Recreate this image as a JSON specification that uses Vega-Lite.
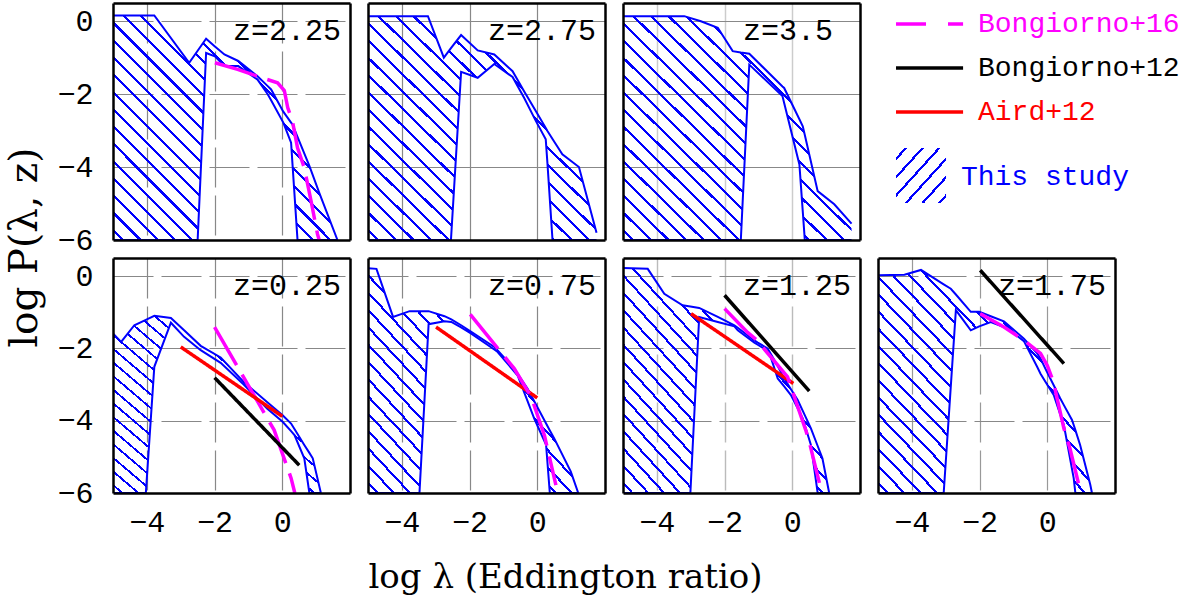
{
"$schema":"https://vega.github.io/schema/vega-lite/v6.json",
"background":"white",
"padding":{"left":4,"top":2,"right":5,"bottom":5},
"config":{
 "view":{"stroke":null},
 "axis":{"labelFont":"Liberation Mono","labelFontSize":30,"labelColor":"#000000","titleFont":"DejaVu Serif","titleFontWeight":"normal","titleColor":"#000000"},
 "area":{"fill":{"gradient":"linear","x1":0,"y1":1,"x2":1,"y2":0,"stops":[
{"offset":0,"color":"rgba(0,0,255,0)"},
{"offset":0.0192,"color":"rgba(0,0,255,0)"},{"offset":0.0192,"color":"#0000ff"},{"offset":0.0262,"color":"#0000ff"},{"offset":0.0262,"color":"rgba(0,0,255,0)"},
{"offset":0.0577,"color":"rgba(0,0,255,0)"},{"offset":0.0577,"color":"#0000ff"},{"offset":0.0647,"color":"#0000ff"},{"offset":0.0647,"color":"rgba(0,0,255,0)"},
{"offset":0.0962,"color":"rgba(0,0,255,0)"},{"offset":0.0962,"color":"#0000ff"},{"offset":0.1032,"color":"#0000ff"},{"offset":0.1032,"color":"rgba(0,0,255,0)"},
{"offset":0.1346,"color":"rgba(0,0,255,0)"},{"offset":0.1346,"color":"#0000ff"},{"offset":0.1416,"color":"#0000ff"},{"offset":0.1416,"color":"rgba(0,0,255,0)"},
{"offset":0.1731,"color":"rgba(0,0,255,0)"},{"offset":0.1731,"color":"#0000ff"},{"offset":0.1801,"color":"#0000ff"},{"offset":0.1801,"color":"rgba(0,0,255,0)"},
{"offset":0.2115,"color":"rgba(0,0,255,0)"},{"offset":0.2115,"color":"#0000ff"},{"offset":0.2185,"color":"#0000ff"},{"offset":0.2185,"color":"rgba(0,0,255,0)"},
{"offset":0.25,"color":"rgba(0,0,255,0)"},{"offset":0.25,"color":"#0000ff"},{"offset":0.257,"color":"#0000ff"},{"offset":0.257,"color":"rgba(0,0,255,0)"},
{"offset":0.2885,"color":"rgba(0,0,255,0)"},{"offset":0.2885,"color":"#0000ff"},{"offset":0.2955,"color":"#0000ff"},{"offset":0.2955,"color":"rgba(0,0,255,0)"},
{"offset":0.3269,"color":"rgba(0,0,255,0)"},{"offset":0.3269,"color":"#0000ff"},{"offset":0.3339,"color":"#0000ff"},{"offset":0.3339,"color":"rgba(0,0,255,0)"},
{"offset":0.3654,"color":"rgba(0,0,255,0)"},{"offset":0.3654,"color":"#0000ff"},{"offset":0.3724,"color":"#0000ff"},{"offset":0.3724,"color":"rgba(0,0,255,0)"},
{"offset":0.4038,"color":"rgba(0,0,255,0)"},{"offset":0.4038,"color":"#0000ff"},{"offset":0.4108,"color":"#0000ff"},{"offset":0.4108,"color":"rgba(0,0,255,0)"},
{"offset":0.4423,"color":"rgba(0,0,255,0)"},{"offset":0.4423,"color":"#0000ff"},{"offset":0.4493,"color":"#0000ff"},{"offset":0.4493,"color":"rgba(0,0,255,0)"},
{"offset":0.4808,"color":"rgba(0,0,255,0)"},{"offset":0.4808,"color":"#0000ff"},{"offset":0.4878,"color":"#0000ff"},{"offset":0.4878,"color":"rgba(0,0,255,0)"},
{"offset":0.5192,"color":"rgba(0,0,255,0)"},{"offset":0.5192,"color":"#0000ff"},{"offset":0.5262,"color":"#0000ff"},{"offset":0.5262,"color":"rgba(0,0,255,0)"},
{"offset":0.5577,"color":"rgba(0,0,255,0)"},{"offset":0.5577,"color":"#0000ff"},{"offset":0.5647,"color":"#0000ff"},{"offset":0.5647,"color":"rgba(0,0,255,0)"},
{"offset":0.5962,"color":"rgba(0,0,255,0)"},{"offset":0.5962,"color":"#0000ff"},{"offset":0.6032,"color":"#0000ff"},{"offset":0.6032,"color":"rgba(0,0,255,0)"},
{"offset":0.6346,"color":"rgba(0,0,255,0)"},{"offset":0.6346,"color":"#0000ff"},{"offset":0.6416,"color":"#0000ff"},{"offset":0.6416,"color":"rgba(0,0,255,0)"},
{"offset":0.6731,"color":"rgba(0,0,255,0)"},{"offset":0.6731,"color":"#0000ff"},{"offset":0.6801,"color":"#0000ff"},{"offset":0.6801,"color":"rgba(0,0,255,0)"},
{"offset":0.7115,"color":"rgba(0,0,255,0)"},{"offset":0.7115,"color":"#0000ff"},{"offset":0.7185,"color":"#0000ff"},{"offset":0.7185,"color":"rgba(0,0,255,0)"},
{"offset":0.75,"color":"rgba(0,0,255,0)"},{"offset":0.75,"color":"#0000ff"},{"offset":0.757,"color":"#0000ff"},{"offset":0.757,"color":"rgba(0,0,255,0)"},
{"offset":0.7885,"color":"rgba(0,0,255,0)"},{"offset":0.7885,"color":"#0000ff"},{"offset":0.7955,"color":"#0000ff"},{"offset":0.7955,"color":"rgba(0,0,255,0)"},
{"offset":0.8269,"color":"rgba(0,0,255,0)"},{"offset":0.8269,"color":"#0000ff"},{"offset":0.8339,"color":"#0000ff"},{"offset":0.8339,"color":"rgba(0,0,255,0)"},
{"offset":0.8654,"color":"rgba(0,0,255,0)"},{"offset":0.8654,"color":"#0000ff"},{"offset":0.8724,"color":"#0000ff"},{"offset":0.8724,"color":"rgba(0,0,255,0)"},
{"offset":0.9038,"color":"rgba(0,0,255,0)"},{"offset":0.9038,"color":"#0000ff"},{"offset":0.9108,"color":"#0000ff"},{"offset":0.9108,"color":"rgba(0,0,255,0)"},
{"offset":0.9423,"color":"rgba(0,0,255,0)"},{"offset":0.9423,"color":"#0000ff"},{"offset":0.9493,"color":"#0000ff"},{"offset":0.9493,"color":"rgba(0,0,255,0)"},
{"offset":0.9808,"color":"rgba(0,0,255,0)"},{"offset":0.9808,"color":"#0000ff"},{"offset":0.9878,"color":"#0000ff"},{"offset":0.9878,"color":"rgba(0,0,255,0)"},
{"offset":1,"color":"rgba(0,0,255,0)"}]}}
},
"datasets":{
 "band":[
  {"z":"2.25","x":-5,"hi":0.16,"lo":-6},{"z":"2.25","x":-3.78,"hi":0.16,"lo":-6},{"z":"2.25","x":-2.75,"hi":-1.14,"lo":-6},{"z":"2.25","x":-2.5,"hi":-0.81,"lo":-6},{"z":"2.25","x":-2.25,"hi":-0.48,"lo":-0.87},{"z":"2.25","x":-1.99,"hi":-0.69,"lo":-0.96},{"z":"2.25","x":-1.71,"hi":-0.91,"lo":-1.23},{"z":"2.25","x":-1.3,"hi":-1.09,"lo":-1.23},{"z":"2.25","x":-0.73,"hi":-1.51,"lo":-1.6},{"z":"2.25","x":-0.43,"hi":-1.78,"lo":-2.0},{"z":"2.25","x":-0.33,"hi":-1.87,"lo":-2.17},{"z":"2.25","x":0.03,"hi":-2.48,"lo":-2.78},{"z":"2.25","x":0.26,"hi":-2.78,"lo":-3.33},{"z":"2.25","x":0.3,"hi":-2.83,"lo":-3.9},{"z":"2.25","x":0.45,"hi":-3.17,"lo":-6},{"z":"2.25","x":0.8,"hi":-3.97,"lo":-6},{"z":"2.25","x":1.09,"hi":-4.7,"lo":-6},{"z":"2.25","x":1.63,"hi":-6,"lo":-6},
  {"z":"2.75","x":-5,"hi":0.14,"lo":-6},{"z":"2.75","x":-3.23,"hi":0.14,"lo":-6},{"z":"2.75","x":-2.76,"hi":-1.0,"lo":-6},{"z":"2.75","x":-2.55,"hi":-0.74,"lo":-6},{"z":"2.75","x":-2.25,"hi":-0.38,"lo":-1.39},{"z":"2.75","x":-1.76,"hi":-0.8,"lo":-1.55},{"z":"2.75","x":-1.27,"hi":-0.91,"lo":-1.17},{"z":"2.75","x":-0.73,"hi":-1.37,"lo":-1.53},{"z":"2.75","x":-0.39,"hi":-1.92,"lo":-2.1},{"z":"2.75","x":-0.04,"hi":-2.47,"lo":-2.74},{"z":"2.75","x":0.25,"hi":-2.93,"lo":-3.24},{"z":"2.75","x":0.3,"hi":-3.01,"lo":-3.9},{"z":"2.75","x":0.45,"hi":-3.23,"lo":-6},{"z":"2.75","x":0.74,"hi":-3.65,"lo":-6},{"z":"2.75","x":1.23,"hi":-4.0,"lo":-6},{"z":"2.75","x":1.75,"hi":-5.8,"lo":-6},
  {"z":"3.5","x":-5,"hi":0.14,"lo":-6},{"z":"3.5","x":-3.19,"hi":0.14,"lo":-6},{"z":"3.5","x":-2.7,"hi":0.0,"lo":-6},{"z":"3.5","x":-2.2,"hi":-0.18,"lo":-6},{"z":"3.5","x":-1.76,"hi":-0.82,"lo":-6},{"z":"3.5","x":-1.52,"hi":-0.86,"lo":-6},{"z":"3.5","x":-1.27,"hi":-0.89,"lo":-1.19},{"z":"3.5","x":-0.29,"hi":-1.79,"lo":-2.05},{"z":"3.5","x":-0.24,"hi":-1.83,"lo":-2.24},{"z":"3.5","x":0.21,"hi":-2.69,"lo":-3.93},{"z":"3.5","x":0.31,"hi":-2.88,"lo":-5.22},{"z":"3.5","x":0.37,"hi":-3.12,"lo":-6},{"z":"3.5","x":0.75,"hi":-4.66,"lo":-6},{"z":"3.5","x":1.24,"hi":-5.02,"lo":-6},{"z":"3.5","x":1.75,"hi":-5.55,"lo":-6},
  {"z":"0.25","x":-5,"hi":-1.59,"lo":-6},{"z":"0.25","x":-4.76,"hi":-1.82,"lo":-6},{"z":"0.25","x":-4.37,"hi":-1.36,"lo":-6},{"z":"0.25","x":-4.03,"hi":-1.21,"lo":-6},{"z":"0.25","x":-3.78,"hi":-1.1,"lo":-2.51},{"z":"0.25","x":-3.29,"hi":-1.16,"lo":-1.29},{"z":"0.25","x":-2.9,"hi":-1.5,"lo":-1.68},{"z":"0.25","x":-2.41,"hi":-1.93,"lo":-2.05},{"z":"0.25","x":-1.82,"hi":-2.25,"lo":-2.4},{"z":"0.25","x":-1.14,"hi":-2.93,"lo":-3.0},{"z":"0.25","x":-0.45,"hi":-3.48,"lo":-3.66},{"z":"0.25","x":0.01,"hi":-3.85,"lo":-4.03},{"z":"0.25","x":0.26,"hi":-4.08,"lo":-4.29},{"z":"0.25","x":0.36,"hi":-4.23,"lo":-4.4},{"z":"0.25","x":0.65,"hi":-4.67,"lo":-5.04},{"z":"0.25","x":0.8,"hi":-4.89,"lo":-6},{"z":"0.25","x":0.9,"hi":-5.04,"lo":-6},{"z":"0.25","x":1.14,"hi":-6,"lo":-6},
  {"z":"0.75","x":-5,"hi":0.22,"lo":-6},{"z":"0.75","x":-4.75,"hi":0.2,"lo":-6},{"z":"0.75","x":-4.26,"hi":-1.13,"lo":-6},{"z":"0.75","x":-3.77,"hi":-0.97,"lo":-6},{"z":"0.75","x":-3.48,"hi":-0.97,"lo":-6},{"z":"0.75","x":-3.21,"hi":-0.97,"lo":-1.33},{"z":"0.75","x":-2.74,"hi":-1.11,"lo":-1.25},{"z":"0.75","x":-2.54,"hi":-1.2,"lo":-1.27},{"z":"0.75","x":-2.25,"hi":-1.36,"lo":-1.42},{"z":"0.75","x":-1.95,"hi":-1.54,"lo":-1.59},{"z":"0.75","x":-1.27,"hi":-1.96,"lo":-2.03},{"z":"0.75","x":-1.17,"hi":-2.06,"lo":-2.1},{"z":"0.75","x":-0.68,"hi":-2.56,"lo":-2.64},{"z":"0.75","x":-0.58,"hi":-2.7,"lo":-2.75},{"z":"0.75","x":-0.29,"hi":-3.11,"lo":-3.45},{"z":"0.75","x":-0.09,"hi":-3.46,"lo":-3.94},{"z":"0.75","x":0.26,"hi":-4.08,"lo":-4.67},{"z":"0.75","x":0.37,"hi":-4.27,"lo":-6},{"z":"0.75","x":0.5,"hi":-4.49,"lo":-6},{"z":"0.75","x":0.99,"hi":-5.41,"lo":-6},{"z":"0.75","x":1.21,"hi":-6,"lo":-6},
  {"z":"1.25","x":-5,"hi":0.22,"lo":-6},{"z":"1.25","x":-4.27,"hi":0.2,"lo":-6},{"z":"1.25","x":-3.78,"hi":-0.49,"lo":-6},{"z":"1.25","x":-3.24,"hi":-0.81,"lo":-6},{"z":"1.25","x":-3.01,"hi":-0.84,"lo":-6},{"z":"1.25","x":-2.75,"hi":-0.88,"lo":-1.13},{"z":"1.25","x":-2.2,"hi":-1.13,"lo":-1.27},{"z":"1.25","x":-1.71,"hi":-1.36,"lo":-1.39},{"z":"1.25","x":-1.61,"hi":-1.43,"lo":-1.5},{"z":"1.25","x":-1.12,"hi":-1.78,"lo":-1.84},{"z":"1.25","x":-1.02,"hi":-1.84,"lo":-1.9},{"z":"1.25","x":-0.73,"hi":-2.0,"lo":-2.07},{"z":"1.25","x":-0.68,"hi":-2.08,"lo":-2.12},{"z":"1.25","x":-0.43,"hi":-2.49,"lo":-2.83},{"z":"1.25","x":-0.24,"hi":-2.83,"lo":-3.05},{"z":"1.25","x":-0.04,"hi":-3.13,"lo":-3.29},{"z":"1.25","x":0.16,"hi":-3.43,"lo":-3.66},{"z":"1.25","x":0.31,"hi":-3.73,"lo":-3.94},{"z":"1.25","x":0.55,"hi":-4.21,"lo":-4.67},{"z":"1.25","x":0.75,"hi":-4.7,"lo":-6},{"z":"1.25","x":0.89,"hi":-5.04,"lo":-6},{"z":"1.25","x":1.09,"hi":-6,"lo":-6},
  {"z":"1.75","x":-5,"hi":0.02,"lo":-6},{"z":"1.75","x":-4.22,"hi":0.04,"lo":-6},{"z":"1.75","x":-3.73,"hi":0.17,"lo":-6},{"z":"1.75","x":-3.06,"hi":-0.23,"lo":-6},{"z":"1.75","x":-2.85,"hi":-0.35,"lo":-3.05},{"z":"1.75","x":-2.7,"hi":-0.51,"lo":-0.94},{"z":"1.75","x":-2.26,"hi":-0.99,"lo":-1.5},{"z":"1.75","x":-2.01,"hi":-0.99,"lo":-1.39},{"z":"1.75","x":-1.67,"hi":-1.11,"lo":-1.27},{"z":"1.75","x":-1.28,"hi":-1.25,"lo":-1.41},{"z":"1.75","x":-1.18,"hi":-1.33,"lo":-1.45},{"z":"1.75","x":-0.69,"hi":-1.73,"lo":-1.8},{"z":"1.75","x":-0.3,"hi":-2.14,"lo":-2.51},{"z":"1.75","x":-0.2,"hi":-2.28,"lo":-2.7},{"z":"1.75","x":-0.01,"hi":-2.65,"lo":-2.99},{"z":"1.75","x":0.19,"hi":-3.02,"lo":-3.29},{"z":"1.75","x":0.38,"hi":-3.38,"lo":-3.82},{"z":"1.75","x":0.49,"hi":-3.57,"lo":-4.12},{"z":"1.75","x":0.73,"hi":-3.98,"lo":-5.34},{"z":"1.75","x":0.78,"hi":-4.12,"lo":-5.59},{"z":"1.75","x":0.83,"hi":-4.26,"lo":-6},{"z":"1.75","x":0.97,"hi":-4.67,"lo":-6},{"z":"1.75","x":1.27,"hi":-5.77,"lo":-6},{"z":"1.75","x":1.32,"hi":-6,"lo":-6}
 ],
 "models":[
  {"z":"2.25","src":"Bongiorno+16","x":-1.99,"y":-1.14},{"z":"2.25","src":"Bongiorno+16","x":-1.32,"y":-1.32},{"z":"2.25","src":"Bongiorno+16","x":-0.73,"y":-1.51},{"z":"2.25","src":"Bongiorno+16","x":-0.14,"y":-1.69},{"z":"2.25","src":"Bongiorno+16","x":0.06,"y":-1.9},{"z":"2.25","src":"Bongiorno+16","x":0.16,"y":-2.37},{"z":"2.25","src":"Bongiorno+16","x":0.3,"y":-2.74},{"z":"2.25","src":"Bongiorno+16","x":0.45,"y":-3.47},{"z":"2.25","src":"Bongiorno+16","x":0.65,"y":-4.02},{"z":"2.25","src":"Bongiorno+16","x":0.85,"y":-4.93},{"z":"2.25","src":"Bongiorno+16","x":1.04,"y":-5.84},{"z":"2.25","src":"Bongiorno+16","x":1.09,"y":-6.0},
  {"z":"0.25","src":"Bongiorno+16","x":-2.0,"y":-1.41},{"z":"0.25","src":"Bongiorno+16","x":-0.24,"y":-4.26},{"z":"0.25","src":"Bongiorno+16","x":0.26,"y":-5.59},{"z":"0.25","src":"Bongiorno+16","x":0.37,"y":-6.0},
  {"z":"0.25","src":"Bongiorno+12","x":-2.0,"y":-2.81},{"z":"0.25","src":"Bongiorno+12","x":0.5,"y":-5.23},
  {"z":"0.25","src":"Aird+12","x":-3.0,"y":-1.96},{"z":"0.25","src":"Aird+12","x":0.0,"y":-3.88},
  {"z":"0.75","src":"Aird+12","x":-2.99,"y":-1.41},{"z":"0.75","src":"Aird+12","x":0.0,"y":-3.37},
  {"z":"0.75","src":"Bongiorno+16","x":-1.98,"y":-1.06},{"z":"0.75","src":"Bongiorno+16","x":-0.68,"y":-2.56},{"z":"0.75","src":"Bongiorno+16","x":-0.18,"y":-3.34},{"z":"0.75","src":"Bongiorno+16","x":0.21,"y":-4.4},{"z":"0.75","src":"Bongiorno+16","x":0.55,"y":-5.78},
  {"z":"1.25","src":"Bongiorno+12","x":-2.0,"y":-0.53},{"z":"1.25","src":"Bongiorno+12","x":0.5,"y":-3.18},
  {"z":"1.25","src":"Aird+12","x":-2.99,"y":-1.04},{"z":"1.25","src":"Aird+12","x":0.03,"y":-2.97},
  {"z":"1.25","src":"Bongiorno+16","x":-2.0,"y":-0.9},{"z":"1.25","src":"Bongiorno+16","x":-1.32,"y":-1.56},{"z":"1.25","src":"Bongiorno+16","x":-1.07,"y":-1.75},{"z":"1.25","src":"Bongiorno+16","x":-0.14,"y":-2.79},{"z":"1.25","src":"Bongiorno+16","x":0.01,"y":-3.2},{"z":"1.25","src":"Bongiorno+16","x":0.41,"y":-4.3},{"z":"1.25","src":"Bongiorno+16","x":0.5,"y":-4.58},{"z":"1.25","src":"Bongiorno+16","x":0.8,"y":-5.72},
  {"z":"1.75","src":"Bongiorno+12","x":-1.98,"y":0.16},{"z":"1.75","src":"Bongiorno+12","x":0.49,"y":-2.42},
  {"z":"1.75","src":"Bongiorno+16","x":-1.98,"y":-1.04},{"z":"1.75","src":"Bongiorno+16","x":-1.28,"y":-1.41},{"z":"1.75","src":"Bongiorno+16","x":-0.69,"y":-1.78},{"z":"1.75","src":"Bongiorno+16","x":-0.2,"y":-2.14},{"z":"1.75","src":"Bongiorno+16","x":0.0,"y":-2.47},{"z":"1.75","src":"Bongiorno+16","x":0.18,"y":-2.92},{"z":"1.75","src":"Bongiorno+16","x":0.28,"y":-3.34},{"z":"1.75","src":"Bongiorno+16","x":0.49,"y":-4.21},{"z":"1.75","src":"Bongiorno+16","x":0.67,"y":-4.77},{"z":"1.75","src":"Bongiorno+16","x":0.92,"y":-5.73}
 ],
 "labels":[{"z":"2.25","label":"z=2.25"},{"z":"2.75","label":"z=2.75"},{"z":"3.5","label":"z=3.5"},{"z":"0.25","label":"z=0.25"},{"z":"0.75","label":"z=0.75"},{"z":"1.25","label":"z=1.25"},{"z":"1.75","label":"z=1.75"}],
 "legend":[{"src":"Bongiorno+16","order":0},{"src":"Bongiorno+12","order":1},{"src":"Aird+12","order":2},{"src":"This study","order":3}]
},
"columns":4,
"spacing":18,
"bounds":"flush",
"concat":[
 {"width":237,"height":237,
  "layer":[
   {"data":{"name":"band"},"transform":[{"filter":"datum.z == '2.25'"}],"mark":{"type":"area","clip":true},
    "encoding":{"x":{"field":"x","type":"quantitative","scale":{"domain":[-5,2],"nice":false,"zero":false},"axis":{"orient":"bottom","values":[-4,-2,0],"grid":true,"gridColor":"#888888","gridDash":[40,8],"gridWidth":1.2,"domain":false,"ticks":false,"labels":false,"title":null,"zindex":0}},
     "y":{"field":"hi","type":"quantitative","scale":{"domain":[-6,0.5],"nice":false,"zero":false},"axis":{"orient":"left","values":[-4,-2,0],"grid":true,"gridColor":"#888888","gridDash":[40,8],"gridWidth":1.2,"domain":false,"ticks":false,"labels":false,"title":null,"zindex":0}},
     "y2":{"field":"lo"}}},
   {"data":{"name":"band"},"transform":[{"filter":"datum.z == '2.25'"}],"mark":{"type":"line","color":"#0000ff","strokeWidth":2,"clip":true},
    "encoding":{"x":{"field":"x","type":"quantitative","scale":{"domain":[-5,2],"nice":false,"zero":false},"axis":{"orient":"bottom","values":[-4.5,-4,-3.5,-3,-2.5,-2,-1.5,-1,-0.5,0,0.5,1,1.5],"grid":false,"domain":true,"domainColor":"#000000","domainWidth":2.5,"ticks":true,"tickSize":0,"labels":false,"title":null,"zindex":1,"encode":{"ticks":{"update":{"y2":{"signal":"datum.value % 2 == 0 ? -16 : -10"},"stroke":{"signal":"datum.value % 2 == 0 ? '#666666' : '#000000'"},"strokeWidth":{"signal":"datum.value % 2 == 0 ? 3 : 2"}}}}}},
     "y":{"field":"hi","type":"quantitative","scale":{"domain":[-6,0.5],"nice":false,"zero":false},"axis":{"orient":"left","values":[-6,-5.5,-5,-4.5,-4,-3.5,-3,-2.5,-2,-1.5,-1,-0.5,0],"grid":false,"domain":true,"domainColor":"#000000","domainWidth":2.5,"ticks":true,"tickSize":0,"labels":true,"labelExpr":"datum.value % 2 == 0 ? (datum.value == 0 ? '0' : '−' + abs(datum.value)) : ''","labelPadding":20,"labelOverlap":false,"labelFlush":false,"labelBound":false,"title":null,"zindex":1,"encode":{"ticks":{"update":{"x2":{"signal":"datum.value <= -6 ? 0 : (datum.value % 2 == 0 ? 18 : 10)"},"stroke":{"signal":"datum.value % 2 == 0 ? '#666666' : '#000000'"},"strokeWidth":{"signal":"datum.value % 2 == 0 ? 3 : 2"}}}}}}}},
   {"data":{"name":"band"},"transform":[{"filter":"datum.z == '2.25'"}],"mark":{"type":"line","color":"#0000ff","strokeWidth":2,"clip":true},
    "encoding":{"x":{"field":"x","type":"quantitative","scale":{"domain":[-5,2],"nice":false,"zero":false},"axis":{"orient":"top","values":[-4.5,-4,-3.5,-3,-2.5,-2,-1.5,-1,-0.5,0,0.5,1,1.5],"grid":false,"domain":true,"domainColor":"#000000","domainWidth":2.5,"ticks":true,"tickSize":0,"labels":false,"title":null,"zindex":1,"encode":{"ticks":{"update":{"y2":{"signal":"datum.value % 2 == 0 ? 14 : 10"},"stroke":{"signal":"datum.value % 2 == 0 ? '#666666' : '#000000'"},"strokeWidth":{"signal":"datum.value % 2 == 0 ? 3 : 2"}}}}}},
     "y":{"field":"lo","type":"quantitative","scale":{"domain":[-6,0.5],"nice":false,"zero":false},"axis":{"orient":"right","domain":true,"domainColor":"#000000","domainWidth":2.5,"ticks":false,"labels":false,"grid":false,"title":null,"zindex":1}}}},
   {"data":{"name":"models"},"transform":[{"filter":"datum.z == '2.25'"}],"mark":{"type":"line","strokeWidth":3.5,"clip":true},
    "encoding":{"x":{"field":"x","type":"quantitative","scale":{"domain":[-5,2],"nice":false,"zero":false},"axis":null},"y":{"field":"y","type":"quantitative","scale":{"domain":[-6,0.5],"nice":false,"zero":false},"axis":null},
     "color":{"field":"src","type":"nominal","scale":{"domain":["Bongiorno+16","Bongiorno+12","Aird+12","This study"],"range":["#ff00ff","#000000","#ff0000","#0000ff"]},"legend":null},
     "strokeDash":{"field":"src","type":"nominal","scale":{"domain":["Bongiorno+16","Bongiorno+12","Aird+12"],"range":[[44,11],[1,0],[1,0]]},"legend":null}}},
   {"data":{"name":"labels"},"transform":[{"filter":"datum.z == '2.25'"}],"mark":{"type":"text","font":"Liberation Mono","fontSize":30,"align":"left","baseline":"alphabetic","color":"#000000"},
    "encoding":{"x":{"datum":-1.456,"type":"quantitative","scale":{"domain":[-5,2],"nice":false,"zero":false},"axis":null},"y":{"datum":-0.515,"type":"quantitative","scale":{"domain":[-6,0.5],"nice":false,"zero":false},"axis":null},"text":{"field":"label"}}}
  ],
  "resolve":{"axis":{"x":"independent","y":"independent"}}},
 {"width":237,"height":237,
  "layer":[
   {"data":{"name":"band"},"transform":[{"filter":"datum.z == '2.75'"}],"mark":{"type":"area","clip":true},
    "encoding":{"x":{"field":"x","type":"quantitative","scale":{"domain":[-5,2],"nice":false,"zero":false},"axis":{"orient":"bottom","values":[-4,-2,0],"grid":true,"gridColor":"#888888","gridWidth":1.2,"domain":false,"ticks":false,"labels":false,"title":null,"zindex":0}},
     "y":{"field":"hi","type":"quantitative","scale":{"domain":[-6,0.5],"nice":false,"zero":false},"axis":{"orient":"left","values":[-4,-2,0],"grid":true,"gridColor":"#888888","gridWidth":1.2,"domain":false,"ticks":false,"labels":false,"title":null,"zindex":0}},
     "y2":{"field":"lo"}}},
   {"data":{"name":"band"},"transform":[{"filter":"datum.z == '2.75'"}],"mark":{"type":"line","color":"#0000ff","strokeWidth":2,"clip":true},
    "encoding":{"x":{"field":"x","type":"quantitative","scale":{"domain":[-5,2],"nice":false,"zero":false},"axis":{"orient":"bottom","values":[-4.5,-4,-3.5,-3,-2.5,-2,-1.5,-1,-0.5,0,0.5,1,1.5],"grid":false,"domain":true,"domainColor":"#000000","domainWidth":2.5,"ticks":true,"tickSize":0,"labels":false,"title":null,"zindex":1,"encode":{"ticks":{"update":{"y2":{"signal":"datum.value % 2 == 0 ? -16 : -10"},"stroke":{"signal":"datum.value % 2 == 0 ? '#666666' : '#000000'"},"strokeWidth":{"signal":"datum.value % 2 == 0 ? 3 : 2"}}}}}},
     "y":{"field":"hi","type":"quantitative","scale":{"domain":[-6,0.5],"nice":false,"zero":false},"axis":{"orient":"left","values":[-6,-5.5,-5,-4.5,-4,-3.5,-3,-2.5,-2,-1.5,-1,-0.5,0],"grid":false,"domain":true,"domainColor":"#000000","domainWidth":2.5,"ticks":true,"tickSize":0,"labels":false,"title":null,"zindex":1,"encode":{"ticks":{"update":{"x2":{"signal":"datum.value <= -6 ? 0 : (datum.value % 2 == 0 ? 18 : 10)"},"stroke":{"signal":"datum.value % 2 == 0 ? '#666666' : '#000000'"},"strokeWidth":{"signal":"datum.value % 2 == 0 ? 3 : 2"}}}}}}}},
   {"data":{"name":"band"},"transform":[{"filter":"datum.z == '2.75'"}],"mark":{"type":"line","color":"#0000ff","strokeWidth":2,"clip":true},
    "encoding":{"x":{"field":"x","type":"quantitative","scale":{"domain":[-5,2],"nice":false,"zero":false},"axis":{"orient":"top","values":[-4.5,-4,-3.5,-3,-2.5,-2,-1.5,-1,-0.5,0,0.5,1,1.5],"grid":false,"domain":true,"domainColor":"#000000","domainWidth":2.5,"ticks":true,"tickSize":0,"labels":false,"title":null,"zindex":1,"encode":{"ticks":{"update":{"y2":{"signal":"datum.value % 2 == 0 ? 14 : 10"},"stroke":{"signal":"datum.value % 2 == 0 ? '#666666' : '#000000'"},"strokeWidth":{"signal":"datum.value % 2 == 0 ? 3 : 2"}}}}}},
     "y":{"field":"lo","type":"quantitative","scale":{"domain":[-6,0.5],"nice":false,"zero":false},"axis":{"orient":"right","domain":true,"domainColor":"#000000","domainWidth":2.5,"ticks":false,"labels":false,"grid":false,"title":null,"zindex":1}}}},
   {"data":{"name":"labels"},"transform":[{"filter":"datum.z == '2.75'"}],"mark":{"type":"text","font":"Liberation Mono","fontSize":30,"align":"left","baseline":"alphabetic","color":"#000000"},
    "encoding":{"x":{"datum":-1.456,"type":"quantitative","scale":{"domain":[-5,2],"nice":false,"zero":false},"axis":null},"y":{"datum":-0.515,"type":"quantitative","scale":{"domain":[-6,0.5],"nice":false,"zero":false},"axis":null},"text":{"field":"label"}}}
  ],
  "resolve":{"axis":{"x":"independent","y":"independent"}}},
 {"width":237,"height":237,
  "layer":[
   {"data":{"name":"band"},"transform":[{"filter":"datum.z == '3.5'"}],"mark":{"type":"area","clip":true},
    "encoding":{"x":{"field":"x","type":"quantitative","scale":{"domain":[-5,2],"nice":false,"zero":false},"axis":{"orient":"bottom","values":[-4,-2,0],"grid":true,"gridColor":"#cccccc","gridWidth":1.5,"domain":false,"ticks":false,"labels":false,"title":null,"zindex":0}},
     "y":{"field":"hi","type":"quantitative","scale":{"domain":[-6,0.5],"nice":false,"zero":false},"axis":{"orient":"left","values":[-4,-2,0],"grid":true,"gridColor":"#888888","gridWidth":1.2,"domain":false,"ticks":false,"labels":false,"title":null,"zindex":0}},
     "y2":{"field":"lo"}}},
   {"data":{"name":"band"},"transform":[{"filter":"datum.z == '3.5'"}],"mark":{"type":"line","color":"#0000ff","strokeWidth":2,"clip":true},
    "encoding":{"x":{"field":"x","type":"quantitative","scale":{"domain":[-5,2],"nice":false,"zero":false},"axis":{"orient":"bottom","values":[-4.5,-4,-3.5,-3,-2.5,-2,-1.5,-1,-0.5,0,0.5,1,1.5],"grid":false,"domain":true,"domainColor":"#000000","domainWidth":2.5,"ticks":true,"tickSize":0,"labels":false,"title":null,"zindex":1,"encode":{"ticks":{"update":{"y2":{"signal":"datum.value % 2 == 0 ? -16 : -10"},"stroke":{"signal":"datum.value % 2 == 0 ? '#666666' : '#000000'"},"strokeWidth":{"signal":"datum.value % 2 == 0 ? 3 : 2"}}}}}},
     "y":{"field":"hi","type":"quantitative","scale":{"domain":[-6,0.5],"nice":false,"zero":false},"axis":{"orient":"left","values":[-6,-5.5,-5,-4.5,-4,-3.5,-3,-2.5,-2,-1.5,-1,-0.5,0],"grid":false,"domain":true,"domainColor":"#000000","domainWidth":2.5,"ticks":true,"tickSize":0,"labels":false,"title":null,"zindex":1,"encode":{"ticks":{"update":{"x2":{"signal":"datum.value <= -6 ? 0 : (datum.value % 2 == 0 ? 18 : 10)"},"stroke":{"signal":"datum.value % 2 == 0 ? '#666666' : '#000000'"},"strokeWidth":{"signal":"datum.value % 2 == 0 ? 3 : 2"}}}}}}}},
   {"data":{"name":"band"},"transform":[{"filter":"datum.z == '3.5'"}],"mark":{"type":"line","color":"#0000ff","strokeWidth":2,"clip":true},
    "encoding":{"x":{"field":"x","type":"quantitative","scale":{"domain":[-5,2],"nice":false,"zero":false},"axis":{"orient":"top","values":[-4.5,-4,-3.5,-3,-2.5,-2,-1.5,-1,-0.5,0,0.5,1,1.5],"grid":false,"domain":true,"domainColor":"#000000","domainWidth":2.5,"ticks":true,"tickSize":0,"labels":false,"title":null,"zindex":1,"encode":{"ticks":{"update":{"y2":{"signal":"datum.value % 2 == 0 ? 14 : 10"},"stroke":{"signal":"datum.value % 2 == 0 ? '#666666' : '#000000'"},"strokeWidth":{"signal":"datum.value % 2 == 0 ? 3 : 2"}}}}}},
     "y":{"field":"lo","type":"quantitative","scale":{"domain":[-6,0.5],"nice":false,"zero":false},"axis":{"orient":"right","domain":true,"domainColor":"#000000","domainWidth":2.5,"ticks":false,"labels":false,"grid":false,"title":null,"zindex":1}}}},
   {"data":{"name":"labels"},"transform":[{"filter":"datum.z == '3.5'"}],"mark":{"type":"text","font":"Liberation Mono","fontSize":30,"align":"left","baseline":"alphabetic","color":"#000000"},
    "encoding":{"x":{"datum":-1.456,"type":"quantitative","scale":{"domain":[-5,2],"nice":false,"zero":false},"axis":null},"y":{"datum":-0.515,"type":"quantitative","scale":{"domain":[-6,0.5],"nice":false,"zero":false},"axis":null},"text":{"field":"label"}}}
  ],
  "resolve":{"axis":{"x":"independent","y":"independent"}}},
 {"width":237,"height":237,"view":{"stroke":null},
  "data":{"name":"legend"},
  "layer":[
   {"transform":[{"filter":"datum.src == 'Bongiorno+16'"}],"mark":{"type":"rule","color":"#ff00ff","strokeWidth":3.5,"strokeDash":[30,22]},
    "encoding":{"x":{"datum":0.76,"type":"quantitative","scale":{"domain":[0,10],"nice":false,"zero":false},"axis":null},"x2":{"datum":3.59},"y":{"field":"order","type":"quantitative","scale":{"domain":[-0.477,4.909],"reverse":true,"nice":false,"zero":false},"axis":null}}},
   {"transform":[{"filter":"datum.src == 'Bongiorno+12' || datum.src == 'Aird+12'"}],"mark":{"type":"rule","strokeWidth":3.5},
    "encoding":{"x":{"datum":0.76,"type":"quantitative","scale":{"domain":[0,10],"nice":false,"zero":false},"axis":null},"x2":{"datum":3.59},"y":{"field":"order","type":"quantitative","scale":{"domain":[-0.477,4.909],"reverse":true,"nice":false,"zero":false},"axis":null},
     "color":{"field":"src","type":"nominal","scale":{"domain":["Bongiorno+16","Bongiorno+12","Aird+12","This study"],"range":["#ff00ff","#000000","#ff0000","#0000ff"]},"legend":null}}},
   {"transform":[{"filter":"datum.src != 'This study'"}],"mark":{"type":"text","font":"Liberation Mono","fontSize":28,"align":"left","baseline":"middle"},
    "encoding":{"x":{"datum":4.22,"type":"quantitative","scale":{"domain":[0,10],"nice":false,"zero":false},"axis":null},"y":{"field":"order","type":"quantitative","scale":{"domain":[-0.477,4.909],"reverse":true,"nice":false,"zero":false},"axis":null},"text":{"field":"src"},
     "color":{"field":"src","type":"nominal","scale":{"domain":["Bongiorno+16","Bongiorno+12","Aird+12","This study"],"range":["#ff00ff","#000000","#ff0000","#0000ff"]},"legend":null}}},
   {"transform":[{"filter":"datum.src == 'This study'"}],"mark":{"type":"text","font":"Liberation Mono","fontSize":28,"align":"left","baseline":"middle"},
    "encoding":{"x":{"datum":3.5,"type":"quantitative","scale":{"domain":[0,10],"nice":false,"zero":false},"axis":null},"y":{"datum":3.48,"type":"quantitative","scale":{"domain":[-0.477,4.909],"reverse":true,"nice":false,"zero":false},"axis":null},"text":{"field":"src"},
     "color":{"field":"src","type":"nominal","scale":{"domain":["Bongiorno+16","Bongiorno+12","Aird+12","This study"],"range":["#ff00ff","#000000","#ff0000","#0000ff"]},"legend":null}}},
   {"transform":[{"filter":"datum.src == 'This study'"}],"mark":{"type":"rect","fill":{"gradient":"linear","x1":0,"y1":0,"x2":1,"y2":1,"stops":[
     {"offset":0,"color":"rgba(0,0,255,0)"},
     {"offset":0.0833,"color":"rgba(0,0,255,0)"},{"offset":0.0833,"color":"#0000ff"},{"offset":0.1133,"color":"#0000ff"},{"offset":0.1133,"color":"rgba(0,0,255,0)"},
     {"offset":0.25,"color":"rgba(0,0,255,0)"},{"offset":0.25,"color":"#0000ff"},{"offset":0.28,"color":"#0000ff"},{"offset":0.28,"color":"rgba(0,0,255,0)"},
     {"offset":0.4167,"color":"rgba(0,0,255,0)"},{"offset":0.4167,"color":"#0000ff"},{"offset":0.4467,"color":"#0000ff"},{"offset":0.4467,"color":"rgba(0,0,255,0)"},
     {"offset":0.5833,"color":"rgba(0,0,255,0)"},{"offset":0.5833,"color":"#0000ff"},{"offset":0.6133,"color":"#0000ff"},{"offset":0.6133,"color":"rgba(0,0,255,0)"},
     {"offset":0.75,"color":"rgba(0,0,255,0)"},{"offset":0.75,"color":"#0000ff"},{"offset":0.78,"color":"#0000ff"},{"offset":0.78,"color":"rgba(0,0,255,0)"},
     {"offset":0.9167,"color":"rgba(0,0,255,0)"},{"offset":0.9167,"color":"#0000ff"},{"offset":0.9467,"color":"#0000ff"},{"offset":0.9467,"color":"rgba(0,0,255,0)"},
     {"offset":1,"color":"rgba(0,0,255,0)"}]}},
    "encoding":{"x":{"datum":0.76,"type":"quantitative","scale":{"domain":[0,10],"nice":false,"zero":false},"axis":null},"x2":{"datum":2.87},"y":{"datum":2.82,"type":"quantitative","scale":{"domain":[-0.477,4.909],"reverse":true,"nice":false,"zero":false},"axis":null},"y2":{"datum":4.07}}}
  ]},
 {"width":237,"height":235,
  "layer":[
   {"data":{"name":"band"},"transform":[{"filter":"datum.z == '0.25'"}],"mark":{"type":"area","clip":true},
    "encoding":{"x":{"field":"x","type":"quantitative","scale":{"domain":[-5,2],"nice":false,"zero":false},"axis":{"orient":"bottom","values":[-4,-2,0],"grid":true,"gridColor":"#888888","gridDash":[40,8],"gridWidth":1.2,"domain":false,"ticks":false,"labels":false,"title":null,"zindex":0}},
     "y":{"field":"hi","type":"quantitative","scale":{"domain":[-6,0.5],"nice":false,"zero":false},"axis":{"orient":"left","values":[-4,-2,0],"grid":true,"gridColor":"#888888","gridDash":[40,8],"gridWidth":1.2,"domain":false,"ticks":false,"labels":false,"title":null,"zindex":0}},
     "y2":{"field":"lo"}}},
   {"data":{"name":"band"},"transform":[{"filter":"datum.z == '0.25'"}],"mark":{"type":"line","color":"#0000ff","strokeWidth":2,"clip":true},
    "encoding":{"x":{"field":"x","type":"quantitative","scale":{"domain":[-5,2],"nice":false,"zero":false},"axis":{"orient":"bottom","values":[-4.5,-4,-3.5,-3,-2.5,-2,-1.5,-1,-0.5,0,0.5,1,1.5],"grid":false,"domain":true,"domainColor":"#000000","domainWidth":2.5,"ticks":true,"tickSize":0,"labels":true,"labelExpr":"datum.value % 2 == 0 ? (datum.value == 0 ? '0' : '−' + abs(datum.value)) : ''","labelPadding":14,"labelOverlap":false,"labelFlush":false,"labelBound":false,"title":null,"zindex":1,"encode":{"ticks":{"update":{"y2":{"signal":"datum.value % 2 == 0 ? -16 : -10"},"stroke":{"signal":"datum.value % 2 == 0 ? '#666666' : '#000000'"},"strokeWidth":{"signal":"datum.value % 2 == 0 ? 3 : 2"}}}}}},
     "y":{"field":"hi","type":"quantitative","scale":{"domain":[-6,0.5],"nice":false,"zero":false},"axis":{"orient":"left","values":[-6,-5.5,-5,-4.5,-4,-3.5,-3,-2.5,-2,-1.5,-1,-0.5,0],"grid":false,"domain":true,"domainColor":"#000000","domainWidth":2.5,"ticks":true,"tickSize":0,"labels":true,"labelExpr":"datum.value % 2 == 0 ? (datum.value == 0 ? '0' : '−' + abs(datum.value)) : ''","labelPadding":20,"labelOverlap":false,"labelFlush":false,"labelBound":false,"title":"log P(λ,  z)","titleFontSize":39,"titleX":-77,"titleY":-11,"titleAngle":-90,"titleAlign":"center","titleBaseline":"alphabetic","zindex":1,"encode":{"ticks":{"update":{"x2":{"signal":"datum.value <= -6 ? 0 : (datum.value % 2 == 0 ? 18 : 10)"},"stroke":{"signal":"datum.value % 2 == 0 ? '#666666' : '#000000'"},"strokeWidth":{"signal":"datum.value % 2 == 0 ? 3 : 2"}}}}}}}},
   {"data":{"name":"band"},"transform":[{"filter":"datum.z == '0.25'"}],"mark":{"type":"line","color":"#0000ff","strokeWidth":2,"clip":true},
    "encoding":{"x":{"field":"x","type":"quantitative","scale":{"domain":[-5,2],"nice":false,"zero":false},"axis":{"orient":"top","values":[-4.5,-4,-3.5,-3,-2.5,-2,-1.5,-1,-0.5,0,0.5,1,1.5],"grid":false,"domain":true,"domainColor":"#000000","domainWidth":2.5,"ticks":true,"tickSize":0,"labels":false,"title":null,"zindex":1,"encode":{"ticks":{"update":{"y2":{"signal":"datum.value % 2 == 0 ? 14 : 10"},"stroke":{"signal":"datum.value % 2 == 0 ? '#666666' : '#000000'"},"strokeWidth":{"signal":"datum.value % 2 == 0 ? 3 : 2"}}}}}},
     "y":{"field":"lo","type":"quantitative","scale":{"domain":[-6,0.5],"nice":false,"zero":false},"axis":{"orient":"right","domain":true,"domainColor":"#000000","domainWidth":2.5,"ticks":false,"labels":false,"grid":false,"title":null,"zindex":1}}}},
   {"data":{"name":"models"},"transform":[{"filter":"datum.z == '0.25'"}],"mark":{"type":"line","strokeWidth":3.5,"clip":true},
    "encoding":{"x":{"field":"x","type":"quantitative","scale":{"domain":[-5,2],"nice":false,"zero":false},"axis":null},"y":{"field":"y","type":"quantitative","scale":{"domain":[-6,0.5],"nice":false,"zero":false},"axis":null},
     "color":{"field":"src","type":"nominal","scale":{"domain":["Bongiorno+16","Bongiorno+12","Aird+12","This study"],"range":["#ff00ff","#000000","#ff0000","#0000ff"]},"legend":null},
     "strokeDash":{"field":"src","type":"nominal","scale":{"domain":["Bongiorno+16","Bongiorno+12","Aird+12"],"range":[[44,11],[1,0],[1,0]]},"legend":null}}},
   {"data":{"name":"labels"},"transform":[{"filter":"datum.z == '0.25'"}],"mark":{"type":"text","font":"Liberation Mono","fontSize":30,"align":"left","baseline":"alphabetic","color":"#000000"},
    "encoding":{"x":{"datum":-1.456,"type":"quantitative","scale":{"domain":[-5,2],"nice":false,"zero":false},"axis":null},"y":{"datum":-0.52,"type":"quantitative","scale":{"domain":[-6,0.5],"nice":false,"zero":false},"axis":null},"text":{"field":"label"}}}
  ],
  "resolve":{"axis":{"x":"independent","y":"independent"}}},
 {"width":237,"height":235,
  "layer":[
   {"data":{"name":"band"},"transform":[{"filter":"datum.z == '0.75'"}],"mark":{"type":"area","clip":true},
    "encoding":{"x":{"field":"x","type":"quantitative","scale":{"domain":[-5,2],"nice":false,"zero":false},"axis":{"orient":"bottom","values":[-4,-2,0],"grid":true,"gridColor":"#888888","gridDash":[40,8],"gridWidth":1.2,"domain":false,"ticks":false,"labels":false,"title":null,"zindex":0}},
     "y":{"field":"hi","type":"quantitative","scale":{"domain":[-6,0.5],"nice":false,"zero":false},"axis":{"orient":"left","values":[-4,-2,0],"grid":true,"gridColor":"#888888","gridDash":[40,8],"gridWidth":1.2,"domain":false,"ticks":false,"labels":false,"title":null,"zindex":0}},
     "y2":{"field":"lo"}}},
   {"data":{"name":"band"},"transform":[{"filter":"datum.z == '0.75'"}],"mark":{"type":"line","color":"#0000ff","strokeWidth":2,"clip":true},
    "encoding":{"x":{"field":"x","type":"quantitative","scale":{"domain":[-5,2],"nice":false,"zero":false},"axis":{"orient":"bottom","values":[-4.5,-4,-3.5,-3,-2.5,-2,-1.5,-1,-0.5,0,0.5,1,1.5],"grid":false,"domain":true,"domainColor":"#000000","domainWidth":2.5,"ticks":true,"tickSize":0,"labels":true,"labelExpr":"datum.value % 2 == 0 ? (datum.value == 0 ? '0' : '−' + abs(datum.value)) : ''","labelPadding":14,"labelOverlap":false,"labelFlush":false,"labelBound":false,"title":"log λ  (Eddington ratio)","titleFontSize":34,"titleX":197,"titleY":94,"titleAngle":0,"titleAlign":"center","titleBaseline":"alphabetic","zindex":1,"encode":{"ticks":{"update":{"y2":{"signal":"datum.value % 2 == 0 ? -16 : -10"},"stroke":{"signal":"datum.value % 2 == 0 ? '#666666' : '#000000'"},"strokeWidth":{"signal":"datum.value % 2 == 0 ? 3 : 2"}}}}}},
     "y":{"field":"hi","type":"quantitative","scale":{"domain":[-6,0.5],"nice":false,"zero":false},"axis":{"orient":"left","values":[-6,-5.5,-5,-4.5,-4,-3.5,-3,-2.5,-2,-1.5,-1,-0.5,0],"grid":false,"domain":true,"domainColor":"#000000","domainWidth":2.5,"ticks":true,"tickSize":0,"labels":false,"title":null,"zindex":1,"encode":{"ticks":{"update":{"x2":{"signal":"datum.value <= -6 ? 0 : (datum.value % 2 == 0 ? 18 : 10)"},"stroke":{"signal":"datum.value % 2 == 0 ? '#666666' : '#000000'"},"strokeWidth":{"signal":"datum.value % 2 == 0 ? 3 : 2"}}}}}}}},
   {"data":{"name":"band"},"transform":[{"filter":"datum.z == '0.75'"}],"mark":{"type":"line","color":"#0000ff","strokeWidth":2,"clip":true},
    "encoding":{"x":{"field":"x","type":"quantitative","scale":{"domain":[-5,2],"nice":false,"zero":false},"axis":{"orient":"top","values":[-4.5,-4,-3.5,-3,-2.5,-2,-1.5,-1,-0.5,0,0.5,1,1.5],"grid":false,"domain":true,"domainColor":"#000000","domainWidth":2.5,"ticks":true,"tickSize":0,"labels":false,"title":null,"zindex":1,"encode":{"ticks":{"update":{"y2":{"signal":"datum.value % 2 == 0 ? 14 : 10"},"stroke":{"signal":"datum.value % 2 == 0 ? '#666666' : '#000000'"},"strokeWidth":{"signal":"datum.value % 2 == 0 ? 3 : 2"}}}}}},
     "y":{"field":"lo","type":"quantitative","scale":{"domain":[-6,0.5],"nice":false,"zero":false},"axis":{"orient":"right","domain":true,"domainColor":"#000000","domainWidth":2.5,"ticks":false,"labels":false,"grid":false,"title":null,"zindex":1}}}},
   {"data":{"name":"models"},"transform":[{"filter":"datum.z == '0.75'"}],"mark":{"type":"line","strokeWidth":3.5,"clip":true},
    "encoding":{"x":{"field":"x","type":"quantitative","scale":{"domain":[-5,2],"nice":false,"zero":false},"axis":null},"y":{"field":"y","type":"quantitative","scale":{"domain":[-6,0.5],"nice":false,"zero":false},"axis":null},
     "color":{"field":"src","type":"nominal","scale":{"domain":["Bongiorno+16","Bongiorno+12","Aird+12","This study"],"range":["#ff00ff","#000000","#ff0000","#0000ff"]},"legend":null},
     "strokeDash":{"field":"src","type":"nominal","scale":{"domain":["Bongiorno+16","Bongiorno+12","Aird+12"],"range":[[44,11],[1,0],[1,0]]},"legend":null}}},
   {"data":{"name":"labels"},"transform":[{"filter":"datum.z == '0.75'"}],"mark":{"type":"text","font":"Liberation Mono","fontSize":30,"align":"left","baseline":"alphabetic","color":"#000000"},
    "encoding":{"x":{"datum":-1.456,"type":"quantitative","scale":{"domain":[-5,2],"nice":false,"zero":false},"axis":null},"y":{"datum":-0.52,"type":"quantitative","scale":{"domain":[-6,0.5],"nice":false,"zero":false},"axis":null},"text":{"field":"label"}}}
  ],
  "resolve":{"axis":{"x":"independent","y":"independent"}}},
 {"width":237,"height":235,
  "layer":[
   {"data":{"name":"band"},"transform":[{"filter":"datum.z == '1.25'"}],"mark":{"type":"area","clip":true},
    "encoding":{"x":{"field":"x","type":"quantitative","scale":{"domain":[-5,2],"nice":false,"zero":false},"axis":{"orient":"bottom","values":[-4,-2,0],"grid":true,"gridColor":"#bbbbbb","gridDash":[40,8],"gridWidth":1.4,"domain":false,"ticks":false,"labels":false,"title":null,"zindex":0}},
     "y":{"field":"hi","type":"quantitative","scale":{"domain":[-6,0.5],"nice":false,"zero":false},"axis":{"orient":"left","values":[-4,-2,0],"grid":true,"gridColor":"#888888","gridDash":[40,8],"gridWidth":1.2,"domain":false,"ticks":false,"labels":false,"title":null,"zindex":0}},
     "y2":{"field":"lo"}}},
   {"data":{"name":"band"},"transform":[{"filter":"datum.z == '1.25'"}],"mark":{"type":"line","color":"#0000ff","strokeWidth":2,"clip":true},
    "encoding":{"x":{"field":"x","type":"quantitative","scale":{"domain":[-5,2],"nice":false,"zero":false},"axis":{"orient":"bottom","values":[-4.5,-4,-3.5,-3,-2.5,-2,-1.5,-1,-0.5,0,0.5,1,1.5],"grid":false,"domain":true,"domainColor":"#000000","domainWidth":2.5,"ticks":true,"tickSize":0,"labels":true,"labelExpr":"datum.value % 2 == 0 ? (datum.value == 0 ? '0' : '−' + abs(datum.value)) : ''","labelPadding":14,"labelOverlap":false,"labelFlush":false,"labelBound":false,"title":null,"zindex":1,"encode":{"ticks":{"update":{"y2":{"signal":"datum.value % 2 == 0 ? -16 : -10"},"stroke":{"signal":"datum.value % 2 == 0 ? '#666666' : '#000000'"},"strokeWidth":{"signal":"datum.value % 2 == 0 ? 3 : 2"}}}}}},
     "y":{"field":"hi","type":"quantitative","scale":{"domain":[-6,0.5],"nice":false,"zero":false},"axis":{"orient":"left","values":[-6,-5.5,-5,-4.5,-4,-3.5,-3,-2.5,-2,-1.5,-1,-0.5,0],"grid":false,"domain":true,"domainColor":"#000000","domainWidth":2.5,"ticks":true,"tickSize":0,"labels":false,"title":null,"zindex":1,"encode":{"ticks":{"update":{"x2":{"signal":"datum.value <= -6 ? 0 : (datum.value % 2 == 0 ? 18 : 10)"},"stroke":{"signal":"datum.value % 2 == 0 ? '#666666' : '#000000'"},"strokeWidth":{"signal":"datum.value % 2 == 0 ? 3 : 2"}}}}}}}},
   {"data":{"name":"band"},"transform":[{"filter":"datum.z == '1.25'"}],"mark":{"type":"line","color":"#0000ff","strokeWidth":2,"clip":true},
    "encoding":{"x":{"field":"x","type":"quantitative","scale":{"domain":[-5,2],"nice":false,"zero":false},"axis":{"orient":"top","values":[-4.5,-4,-3.5,-3,-2.5,-2,-1.5,-1,-0.5,0,0.5,1,1.5],"grid":false,"domain":true,"domainColor":"#000000","domainWidth":2.5,"ticks":true,"tickSize":0,"labels":false,"title":null,"zindex":1,"encode":{"ticks":{"update":{"y2":{"signal":"datum.value % 2 == 0 ? 14 : 10"},"stroke":{"signal":"datum.value % 2 == 0 ? '#666666' : '#000000'"},"strokeWidth":{"signal":"datum.value % 2 == 0 ? 3 : 2"}}}}}},
     "y":{"field":"lo","type":"quantitative","scale":{"domain":[-6,0.5],"nice":false,"zero":false},"axis":{"orient":"right","domain":true,"domainColor":"#000000","domainWidth":2.5,"ticks":false,"labels":false,"grid":false,"title":null,"zindex":1}}}},
   {"data":{"name":"models"},"transform":[{"filter":"datum.z == '1.25'"}],"mark":{"type":"line","strokeWidth":3.5,"clip":true},
    "encoding":{"x":{"field":"x","type":"quantitative","scale":{"domain":[-5,2],"nice":false,"zero":false},"axis":null},"y":{"field":"y","type":"quantitative","scale":{"domain":[-6,0.5],"nice":false,"zero":false},"axis":null},
     "color":{"field":"src","type":"nominal","scale":{"domain":["Bongiorno+16","Bongiorno+12","Aird+12","This study"],"range":["#ff00ff","#000000","#ff0000","#0000ff"]},"legend":null},
     "strokeDash":{"field":"src","type":"nominal","scale":{"domain":["Bongiorno+16","Bongiorno+12","Aird+12"],"range":[[44,11],[1,0],[1,0]]},"legend":null}}},
   {"data":{"name":"labels"},"transform":[{"filter":"datum.z == '1.25'"}],"mark":{"type":"text","font":"Liberation Mono","fontSize":30,"align":"left","baseline":"alphabetic","color":"#000000"},
    "encoding":{"x":{"datum":-1.456,"type":"quantitative","scale":{"domain":[-5,2],"nice":false,"zero":false},"axis":null},"y":{"datum":-0.52,"type":"quantitative","scale":{"domain":[-6,0.5],"nice":false,"zero":false},"axis":null},"text":{"field":"label"}}}
  ],
  "resolve":{"axis":{"x":"independent","y":"independent"}}},
 {"width":237,"height":235,
  "layer":[
   {"data":{"name":"band"},"transform":[{"filter":"datum.z == '1.75'"}],"mark":{"type":"area","clip":true},
    "encoding":{"x":{"field":"x","type":"quantitative","scale":{"domain":[-5,2],"nice":false,"zero":false},"axis":{"orient":"bottom","values":[-4,-2,0],"grid":true,"gridColor":"#999999","gridDash":[40,8],"gridWidth":1.2,"domain":false,"ticks":false,"labels":false,"title":null,"zindex":0}},
     "y":{"field":"hi","type":"quantitative","scale":{"domain":[-6,0.5],"nice":false,"zero":false},"axis":{"orient":"left","values":[-4,-2,0],"grid":true,"gridColor":"#888888","gridDash":[40,8],"gridWidth":1.2,"domain":false,"ticks":false,"labels":false,"title":null,"zindex":0}},
     "y2":{"field":"lo"}}},
   {"data":{"name":"band"},"transform":[{"filter":"datum.z == '1.75'"}],"mark":{"type":"line","color":"#0000ff","strokeWidth":2,"clip":true},
    "encoding":{"x":{"field":"x","type":"quantitative","scale":{"domain":[-5,2],"nice":false,"zero":false},"axis":{"orient":"bottom","values":[-4.5,-4,-3.5,-3,-2.5,-2,-1.5,-1,-0.5,0,0.5,1,1.5],"grid":false,"domain":true,"domainColor":"#000000","domainWidth":2.5,"ticks":true,"tickSize":0,"labels":true,"labelExpr":"datum.value % 2 == 0 ? (datum.value == 0 ? '0' : '−' + abs(datum.value)) : ''","labelPadding":14,"labelOverlap":false,"labelFlush":false,"labelBound":false,"title":null,"zindex":1,"encode":{"ticks":{"update":{"y2":{"signal":"datum.value % 2 == 0 ? -16 : -10"},"stroke":{"signal":"datum.value % 2 == 0 ? '#666666' : '#000000'"},"strokeWidth":{"signal":"datum.value % 2 == 0 ? 3 : 2"}}}}}},
     "y":{"field":"hi","type":"quantitative","scale":{"domain":[-6,0.5],"nice":false,"zero":false},"axis":{"orient":"left","values":[-6,-5.5,-5,-4.5,-4,-3.5,-3,-2.5,-2,-1.5,-1,-0.5,0],"grid":false,"domain":true,"domainColor":"#000000","domainWidth":2.5,"ticks":true,"tickSize":0,"labels":false,"title":null,"zindex":1,"encode":{"ticks":{"update":{"x2":{"signal":"datum.value <= -6 ? 0 : (datum.value % 2 == 0 ? 18 : 10)"},"stroke":{"signal":"datum.value % 2 == 0 ? '#666666' : '#000000'"},"strokeWidth":{"signal":"datum.value % 2 == 0 ? 3 : 2"}}}}}}}},
   {"data":{"name":"band"},"transform":[{"filter":"datum.z == '1.75'"}],"mark":{"type":"line","color":"#0000ff","strokeWidth":2,"clip":true},
    "encoding":{"x":{"field":"x","type":"quantitative","scale":{"domain":[-5,2],"nice":false,"zero":false},"axis":{"orient":"top","values":[-4.5,-4,-3.5,-3,-2.5,-2,-1.5,-1,-0.5,0,0.5,1,1.5],"grid":false,"domain":true,"domainColor":"#000000","domainWidth":2.5,"ticks":true,"tickSize":0,"labels":false,"title":null,"zindex":1,"encode":{"ticks":{"update":{"y2":{"signal":"datum.value % 2 == 0 ? 14 : 10"},"stroke":{"signal":"datum.value % 2 == 0 ? '#666666' : '#000000'"},"strokeWidth":{"signal":"datum.value % 2 == 0 ? 3 : 2"}}}}}},
     "y":{"field":"lo","type":"quantitative","scale":{"domain":[-6,0.5],"nice":false,"zero":false},"axis":{"orient":"right","domain":true,"domainColor":"#000000","domainWidth":2.5,"ticks":false,"labels":false,"grid":false,"title":null,"zindex":1}}}},
   {"data":{"name":"models"},"transform":[{"filter":"datum.z == '1.75'"}],"mark":{"type":"line","strokeWidth":3.5,"clip":true},
    "encoding":{"x":{"field":"x","type":"quantitative","scale":{"domain":[-5,2],"nice":false,"zero":false},"axis":null},"y":{"field":"y","type":"quantitative","scale":{"domain":[-6,0.5],"nice":false,"zero":false},"axis":null},
     "color":{"field":"src","type":"nominal","scale":{"domain":["Bongiorno+16","Bongiorno+12","Aird+12","This study"],"range":["#ff00ff","#000000","#ff0000","#0000ff"]},"legend":null},
     "strokeDash":{"field":"src","type":"nominal","scale":{"domain":["Bongiorno+16","Bongiorno+12","Aird+12"],"range":[[44,11],[1,0],[1,0]]},"legend":null}}},
   {"data":{"name":"labels"},"transform":[{"filter":"datum.z == '1.75'"}],"mark":{"type":"text","font":"Liberation Mono","fontSize":30,"align":"left","baseline":"alphabetic","color":"#000000"},
    "encoding":{"x":{"datum":-1.456,"type":"quantitative","scale":{"domain":[-5,2],"nice":false,"zero":false},"axis":null},"y":{"datum":-0.52,"type":"quantitative","scale":{"domain":[-6,0.5],"nice":false,"zero":false},"axis":null},"text":{"field":"label"}}}
  ],
  "resolve":{"axis":{"x":"independent","y":"independent"}}}
]
}
